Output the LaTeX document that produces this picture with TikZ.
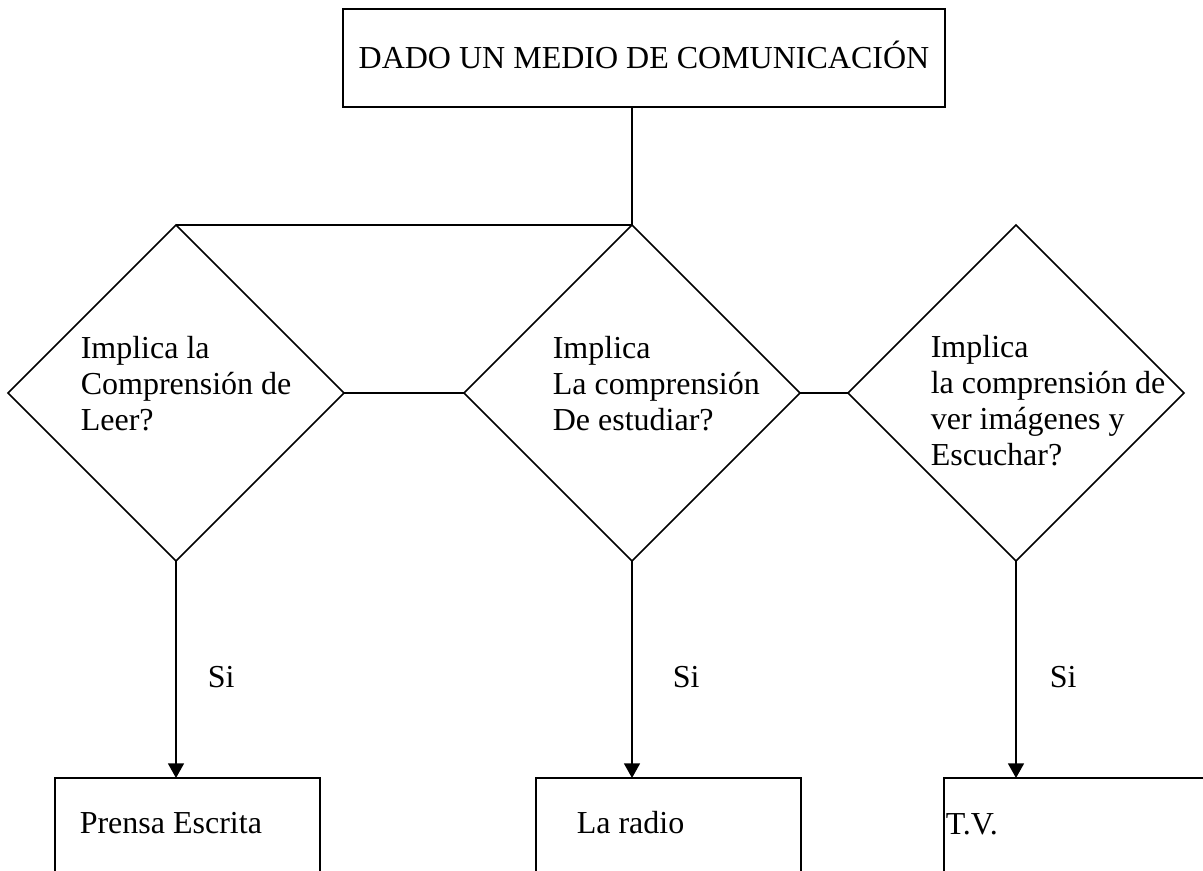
\documentclass[tikz,border=0pt]{standalone}
\usepackage{fontspec}
\setmainfont{Liberation Serif}
\usetikzlibrary{shapes.geometric,arrows.meta}

\begin{document}
\begin{tikzpicture}[x=0.75pt, y=-0.75pt, line width=1.2pt,
    every node/.style={font=\fontsize{24}{27}\selectfont},
    caja/.style={draw, rectangle, inner sep=0pt, outer sep=0pt, minimum width=198.75pt, minimum height=97.5pt},
    rombo/.style={draw, diamond, inner sep=0pt, outer sep=0pt, minimum width=252pt, minimum height=252pt},
    texto/.style={anchor=north west, inner sep=0pt, align=left},
    etiqueta/.style={anchor=base west, inner sep=0pt},
    flecha/.style={-{Triangle[length=11pt, width=12pt]}}]
    \clip (0,0) rectangle (1203,871);
    % caja de arriba
    \node [draw, inner sep=0pt, outer sep=0pt, minimum width=451.5pt, minimum height=73.5pt,
        text height=16pt, text depth=0pt] (medio) at (644,58) {DADO UN MEDIO DE COMUNICACIÓN};
    % preguntas
    \node [rombo] (leer) at (176,393) {};
    \node [rombo] (estudiar) at (632,393) {};
    \node [rombo] (escuchar) at (1016,393) {};
    \node [texto] (leertxt) at (80,335) {Implica la\\Comprensión de\\Leer?};
    \node [texto] (estudiartxt) at (552,335) {Implica\\La comprensión\\De estudiar?};
    \node [texto] (escuchartxt) at (930,334) {Implica\\la comprensión de\\ver imágenes y\\Escuchar?};
    % respuestas
    \node [caja, anchor=north west] (prensa) at (55,778) {};
    \node [caja, anchor=north west] (radio) at (536,778) {};
    \node [caja, anchor=north west] (tv) at (944,778) {};
    \node [etiqueta] (prensatxt) at (79,833) {Prensa Escrita};
    \node [etiqueta] (radiotxt) at (576,833) {La radio};
    \node [etiqueta] (tvtxt) at (945,834) {T.V.};
    \node [etiqueta] (si1) at (207,687) {Si};
    \node [etiqueta] (si2) at (672,687) {Si};
    \node [etiqueta] (si3) at (1049,687) {Si};
    % lineas
    \draw (estudiar.north |- medio.south) -- (estudiar.north) -- (leer.north);
    \draw (leer.east) -- (estudiar.west);
    \draw (estudiar.east) -- (escuchar.west);
    \draw [flecha] (leer.south) -- (leer.south |- prensa.north);
    \draw [flecha] (estudiar.south) -- (estudiar.south |- radio.north);
    \draw [flecha] (escuchar.south) -- (escuchar.south |- tv.north);
\end{tikzpicture}
\end{document}
